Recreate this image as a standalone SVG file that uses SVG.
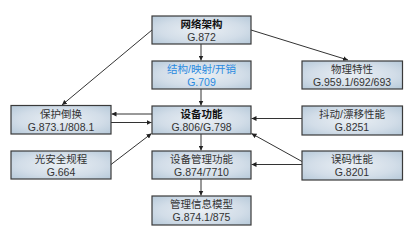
<svg xmlns="http://www.w3.org/2000/svg" width="413" height="239" viewBox="0 0 413 239">
<defs>
<radialGradient id="g" cx="0.5" cy="0.5" r="0.7">
<stop offset="0" stop-color="#eaeff4"/>
<stop offset="0.6" stop-color="#d2dde8"/>
<stop offset="1" stop-color="#b6c9d9"/>
</radialGradient>
<marker id="a" viewBox="0 0 6 6" refX="6" refY="3" markerWidth="5" markerHeight="5" orient="auto" markerUnits="userSpaceOnUse">
<path d="M0,0 L6,3 L0,6 z" fill="#222"/>
</marker>
<style>
.b{fill:url(#g);stroke:#3a3a3a;stroke-width:1.2}
.t{font-family:"Liberation Sans","Noto Sans CJK SC",sans-serif;font-size:10.5px;fill:#333;text-anchor:middle}
.bd{font-weight:bold;fill:#111}
.bl{fill:#2a8ae0}
.c line{stroke:#333;stroke-width:1;marker-end:url(#a)}
</style>
</defs>
<rect width="413" height="239" fill="#fff"/>
<g class="c">
<line x1="201" y1="44" x2="201" y2="60.5"/>
<line x1="201" y1="89" x2="201" y2="105.5"/>
<line x1="201" y1="134" x2="201" y2="150.5"/>
<line x1="201" y1="179" x2="201" y2="195.5"/>
<line x1="152" y1="30" x2="62" y2="105"/>
<line x1="251" y1="30" x2="348" y2="60"/>
<line x1="152" y1="114" x2="111.5" y2="114"/>
<line x1="111" y1="122.5" x2="151.5" y2="122.5"/>
<line x1="111" y1="164.5" x2="151.5" y2="133.5"/>
<line x1="302" y1="118.5" x2="251.5" y2="118.5"/>
<line x1="302" y1="161.5" x2="251.5" y2="133.5"/>
<line x1="302" y1="164.5" x2="251.5" y2="164.5"/>
</g>
<g id="n1"><rect class="b" x="152" y="16" width="99" height="28"/><text class="t bd" x="201.5" y="28">网络架构</text><text class="t" x="201.5" y="41">G.872</text></g>
<g id="n2"><rect class="b" x="152" y="61" width="99" height="28"/><text class="t bl" x="201.5" y="73">结构/映射/开销</text><text class="t bl" x="201.5" y="86">G.709</text></g>
<g id="n3"><rect class="b" x="152" y="106" width="99" height="28"/><text class="t bd" x="201.5" y="118">设备功能</text><text class="t" x="201.5" y="131">G.806/G.798</text></g>
<g id="n4"><rect class="b" x="152" y="151" width="99" height="28"/><text class="t" x="201.5" y="163">设备管理功能</text><text class="t" x="201.5" y="176">G.874/7710</text></g>
<g id="n5"><rect class="b" x="152" y="196" width="99" height="29"/><text class="t" x="201.5" y="208">管理信息模型</text><text class="t" x="201.5" y="221">G.874.1/875</text></g>
<g id="n6"><rect class="b" x="11" y="105.5" width="100" height="28.5"/><text class="t" x="61" y="117.5">保护倒换</text><text class="t" x="61" y="130.5">G.873.1/808.1</text></g>
<g id="n7"><rect class="b" x="11" y="151" width="100" height="28"/><text class="t" x="61" y="163">光安全规程</text><text class="t" x="61" y="176">G.664</text></g>
<g id="n8"><rect class="b" x="302" y="61" width="100.5" height="28"/><text class="t" x="352" y="73">物理特性</text><text class="t" x="352" y="86">G.959.1/692/693</text></g>
<g id="n9"><rect class="b" x="302" y="106" width="100.5" height="29"/><text class="t" x="352" y="118">抖动/漂移性能</text><text class="t" x="352" y="131">G.8251</text></g>
<g id="n10"><rect class="b" x="302" y="151" width="100.5" height="29"/><text class="t" x="352" y="163">误码性能</text><text class="t" x="352" y="176">G.8201</text></g>
</svg>
